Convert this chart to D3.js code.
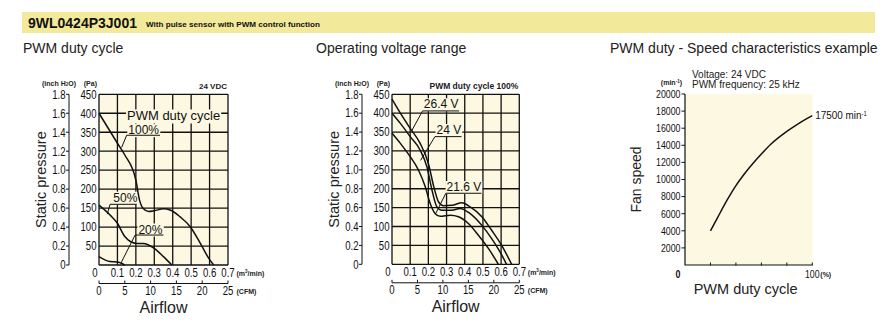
<!DOCTYPE html>
<meta charset="utf-8">
<style>
body { margin: 0; background: #fff; }
</style>
<svg width="890" height="334"></svg>
<script src="https://cdnjs.cloudflare.com/ajax/libs/d3/7.8.5/d3.min.js"></script>
<script>

var svg = d3.select("svg");

var sans = "'Liberation Sans', Arial, Helvetica, sans-serif",
    cream = "#fcf8e2",
    ink = "#111";

// --- data ---
var flowTicks = [0, 0.1, 0.2, 0.3, 0.4, 0.5, 0.6, 0.7];
var cfmTicks = [0, 5, 10, 15, 20, 25];
var paTicks = [50, 100, 150, 200, 250, 300, 350, 400, 450];
var paGrid = [0, 50, 100, 150, 200, 250, 300, 350, 400, 450];
var inchTicks = [0, 0.2, 0.4, 0.6, 0.8, 1.0, 1.2, 1.4, 1.6, 1.8];

// PWM duty cycle curves, [m3/min, Pa]
var duty100 = [[0, 400], [0.1, 321], [0.14, 290], [0.2, 224], [0.22, 171], [0.24, 149], [0.27, 141],
  [0.3, 143], [0.35, 148], [0.386, 145], [0.44, 127], [0.495, 101], [0.55, 57], [0.595, 18], [0.622, 0]];
var duty50 = [[0, 158], [0.06, 132], [0.1, 110], [0.14, 75], [0.17, 62], [0.205, 57], [0.24, 57],
  [0.3, 44], [0.35, 22], [0.395, 0]];
var duty20 = [[0, 22], [0.06, 9], [0.1, 8], [0.14, 0]];

// Operating voltage curves, [m3/min, Pa]
var volt264 = [[0, 437], [0.046, 400], [0.1, 360], [0.155, 320], [0.2, 267], [0.23, 205], [0.256, 165],
  [0.283, 155], [0.33, 156], [0.384, 163], [0.43, 152], [0.494, 126], [0.548, 90], [0.603, 50], [0.658, 0]];
var volt24 = [[0, 400], [0.046, 373], [0.1, 338], [0.155, 302], [0.192, 258], [0.22, 196], [0.247, 152],
  [0.274, 143], [0.33, 143], [0.375, 148], [0.43, 134], [0.494, 103], [0.548, 68], [0.594, 33], [0.63, 0]];
var volt216 = [[0, 347], [0.046, 320], [0.1, 285], [0.146, 249], [0.183, 205], [0.21, 161], [0.238, 134],
  [0.265, 127], [0.32, 130], [0.366, 126], [0.42, 108], [0.475, 77], [0.53, 42], [0.585, 0]];

// PWM duty - speed, [% duty, min-1]
var speedCurve = [[20, 4000], [25.7, 5575], [33.6, 7720], [40, 9280], [46.6, 10640], [60, 12980],
  [67.6, 14150], [80, 15630], [88.6, 16490], [100, 17465]];
var speedTicks = [2000, 4000, 6000, 8000, 10000, 12000, 14000, 16000, 18000, 20000];
var dutyTicks = [20, 40, 60, 80, 100];

// curve labels: text position, underline and leader end, in data units
var dutyLabels = [
  {text: "100%", x: 0.159, y: 345, u0: 0.15, u1: 0.331, uy: 342, lx: 0.123, ly: 310},
  {text: "50%", x: 0.078, y: 167, u0: 0.06, u1: 0.205, uy: 160, lx: 0.045, ly: 134},
  {text: "20%", x: 0.214, y: 83, u0: 0.196, u1: 0.35, uy: 79, lx: 0.118, ly: 4}
];
var voltLabels = [
  {text: "26.4 V", x: 0.175, y: 413, u0: 0.168, u1: 0.369, uy: 406, lx: 0.108, ly: 353},
  {text: "24 V", x: 0.245, y: 345, u0: 0.236, u1: 0.382, uy: 338, lx: 0.157, ly: 275},
  {text: "21.6 V", x: 0.3, y: 194, u0: 0.296, u1: 0.492, uy: 188, lx: 0.241, ly: 135}
];

// condensed numbers: the catalogue uses a narrow face, squeeze regular sans
function squeeze(x, y) { return "translate(" + x + "," + y + ") scale(0.8,1)"; }

// --- header ---
svg.append("rect").attr("x", 22).attr("y", 12).attr("width", 853).attr("height", 21).attr("fill", "#f2e99a");
svg.append("text").attr("x", 28).attr("y", 27.5)
    .style("font", "900 14px " + sans).attr("fill", ink).text("9WL0424P3J001");
svg.append("text").attr("x", 146).attr("y", 26.5)
    .style("font", "bold 8.1px " + sans).attr("fill", ink).text("With pulse sensor with PWM control function");

[["PWM duty cycle", 23], ["Operating voltage range", 316], ["PWM duty - Speed characteristics example", 610]]
  .forEach(function(t) {
    svg.append("text").attr("x", t[1]).attr("y", 52.5)
        .style("font", "14px " + sans).attr("fill", "#222").text(t[0]);
  });

function knockout(sel) {
  var b = sel.node().getBBox();
  sel.node().parentNode.insertBefore(
    d3.create("svg:rect").attr("x", b.x - 1).attr("y", b.y + 1).attr("width", b.width + 2)
      .attr("height", b.height - 1).attr("fill", cream).node(), sel.node());
}

function pqChart(o) {
  var x = d3.scaleLinear().domain([0, 0.7]).range([o.left, o.right]),
      cfm = d3.scaleLinear().domain([0, 25]).range([o.left, o.right]),
      y = d3.scaleLinear().domain([0, 450]).range([o.bottom, o.top]),
      yi = d3.scaleLinear().domain([0, 1.8]).range([o.bottom, o.top]);
  var g = svg.append("g");

  g.append("rect").attr("x", o.left).attr("y", o.top)
      .attr("width", o.right - o.left).attr("height", o.bottom - o.top).attr("fill", cream);

  g.selectAll(".vg").data(flowTicks).enter().append("line")
      .attr("x1", x).attr("x2", x).attr("y1", o.top).attr("y2", o.bottom)
      .attr("stroke", ink).attr("stroke-width", 1.3);
  g.selectAll(".hg").data(paGrid).enter().append("line")
      .attr("y1", y).attr("y2", y).attr("x1", o.left).attr("x2", o.right)
      .attr("stroke", ink).attr("stroke-width", 1.3);

  // labels on cream knockouts
  var labs = g.append("g");
  if (o.headText) {
    var head = labs.append("text").attr("x", x(o.head[0])).attr("y", y(o.head[1]))
        .style("font", "13px " + sans).attr("fill", ink).text(o.headText);
    knockout(head);
  }
  o.labels.forEach(function(d) {
    var t = labs.append("text").attr("x", x(d.x)).attr("y", y(d.y))
        .style("font", "12px " + sans).attr("fill", ink).text(d.text);
    knockout(t);
  });

  var line = d3.line().curve(d3.curveMonotoneX)
      .x(function(d) { return x(d[0]); }).y(function(d) { return y(d[1]); });
  g.selectAll(".curve").data(o.curves).enter().append("path")
      .attr("d", line).attr("fill", "none").attr("stroke", ink).attr("stroke-width", 1.5);

  o.labels.forEach(function(d) {
    g.append("path")
        .attr("d", "M" + x(d.u1) + "," + y(d.uy) + "H" + x(d.u0) + "L" + x(d.lx) + "," + y(d.ly))
        .attr("fill", "none").attr("stroke", ink).attr("stroke-width", 1);
  });

  // Pa labels
  g.selectAll(".pa").data(paTicks).enter().append("text")
      .attr("transform", function(d) { return squeeze(o.left - 2.5, y(d) + 4.3); })
      .attr("text-anchor", "end").style("font", "12px " + sans).attr("fill", ink)
      .text(function(d) { return d; });

  // inch H2O axis
  var ix = o.left - 30;
  g.append("line").attr("x1", ix).attr("x2", ix).attr("y1", yi(1.8)).attr("y2", yi(0))
      .attr("stroke", ink).attr("stroke-width", 1);
  g.selectAll(".it").data(inchTicks).enter().append("line")
      .attr("x1", ix - 3).attr("x2", ix).attr("y1", yi).attr("y2", yi)
      .attr("stroke", ink).attr("stroke-width", 1);
  g.selectAll(".il").data(inchTicks).enter().append("text")
      .attr("transform", function(d) { return squeeze(ix - 3.5, yi(d) + 4.3); })
      .attr("text-anchor", "end").style("font", "12px " + sans).attr("fill", ink)
      .text(function(d) { return d === 0 ? "0" : d.toFixed(1); });

  var unit = g.append("text").attr("x", o.left - 23).attr("y", o.top - 8.5).attr("text-anchor", "end")
      .style("font", "bold 7px " + sans).attr("fill", "#222");
  unit.append("tspan").text("(inch H");
  unit.append("tspan").style("font-size", "4.5px").text("2");
  unit.append("tspan").text("O)");
  g.append("text").attr("x", o.left - 2).attr("y", o.top - 8.5).attr("text-anchor", "end")
      .style("font", "bold 7px " + sans).attr("fill", "#222").text("(Pa)");

  g.append("text").attr("x", o.right - 1).attr("y", o.top - 5.5).attr("text-anchor", "end")
      .style("font", "bold " + o.noteSize + "px " + sans).attr("fill", "#222").text(o.note);

  // m3/min axis labels
  g.selectAll(".fl").data(flowTicks).enter().append("text")
      .attr("transform", function(d) { return squeeze(d === 0 ? x(d) - 4 : x(d), o.bottom + 11.5); })
      .attr("text-anchor", "middle").style("font", "12px " + sans).attr("fill", ink)
      .text(function(d) { return d === 0 ? "0" : d.toFixed(1); });
  var mu = g.append("text").attr("x", o.right + 8.5).attr("y", o.bottom + 10.5)
      .style("font", "bold 7px " + sans).attr("fill", "#222");
  mu.append("tspan").text("(m");
  mu.append("tspan").attr("dy", -2.5).style("font-size", "4.5px").text("3");
  mu.append("tspan").attr("dy", 2.5).text("/min)");

  // CFM axis
  var cy = o.bottom + 18.5;
  g.append("line").attr("x1", cfm(0)).attr("x2", cfm(25)).attr("y1", cy).attr("y2", cy)
      .attr("stroke", ink).attr("stroke-width", 1);
  g.selectAll(".ct").data(cfmTicks).enter().append("line")
      .attr("x1", cfm).attr("x2", cfm).attr("y1", cy - 3).attr("y2", cy)
      .attr("stroke", ink).attr("stroke-width", 1);
  g.selectAll(".cl").data(cfmTicks).enter().append("text")
      .attr("transform", function(d) { return squeeze(cfm(d), cy + 11.5); })
      .attr("text-anchor", "middle").style("font", "12px " + sans).attr("fill", ink)
      .text(function(d) { return d; });
  g.append("text").attr("x", o.right + 8.5).attr("y", cy + 10.5)
      .style("font", "bold 7px " + sans).attr("fill", "#222").text("(CFM)");

  g.append("text").attr("x", (o.left + o.right) / 2).attr("y", o.bottom + 47.5)
      .attr("text-anchor", "middle").style("font", "16px " + sans).attr("fill", "#222").text("Airflow");
  g.append("text").attr("transform", "translate(" + (o.left - 53) + "," + ((o.top + o.bottom) / 2) + ") rotate(-90)")
      .attr("text-anchor", "middle").style("font", "14.5px " + sans).attr("fill", "#222").text("Static pressure");
}

pqChart({left: 99, right: 228, top: 94.3, bottom: 265,
  curves: [duty100, duty50, duty20], labels: dutyLabels,
  headText: "PWM duty cycle", head: [0.152, 381], note: "24 VDC", noteSize: 8});

pqChart({left: 392, right: 519.3, top: 94.3, bottom: 264.3,
  curves: [volt264, volt24, volt216], labels: voltLabels,
  headText: "", head: [0, 0], note: "PWM duty cycle 100%", noteSize: 8.5});

// --- PWM duty - speed chart ---
(function() {
  var left = 685, right = 812.3, top = 94, bottom = 265;
  var x = d3.scaleLinear().domain([0, 100]).range([left, right]),
      y = d3.scaleLinear().domain([0, 20000]).range([bottom, top]);
  var g = svg.append("g");

  g.append("rect").attr("x", left).attr("y", top).attr("width", right - left).attr("height", bottom - top)
      .attr("fill", cream);

  g.append("path").attr("d", "M" + left + "," + top + "V" + bottom + "H" + right)
      .attr("fill", "none").attr("stroke", ink).attr("stroke-width", 1.2);
  g.selectAll(".yt").data(speedTicks).enter().append("line")
      .attr("x1", left - 3.5).attr("x2", left).attr("y1", y).attr("y2", y)
      .attr("stroke", ink).attr("stroke-width", 1);
  g.selectAll(".yl").data(speedTicks).enter().append("text")
      .attr("transform", function(d) { return squeeze(left - 4.5, y(d) + 3.8); })
      .attr("text-anchor", "end").style("font", "11px " + sans).attr("fill", ink)
      .text(function(d) { return d; });
  g.selectAll(".xt").data(dutyTicks).enter().append("line")
      .attr("x1", x).attr("x2", x).attr("y1", bottom - 2.5).attr("y2", bottom + 0.5)
      .attr("stroke", ink).attr("stroke-width", 1);
  g.append("text").attr("transform", squeeze(x(0) - 7, bottom + 12.5)).attr("text-anchor", "middle")
      .style("font", "bold 11px " + sans).attr("fill", ink).text("0");
  g.append("text").attr("transform", squeeze(x(100), bottom + 12.5)).attr("text-anchor", "middle")
      .style("font", "11px " + sans).attr("fill", ink).text("100");
  g.append("text").attr("x", x(100) + 8).attr("y", bottom + 12)
      .style("font", "bold 7px " + sans).attr("fill", "#222").text("(%)");

  var line = d3.line().curve(d3.curveMonotoneX)
      .x(function(d) { return x(d[0]); }).y(function(d) { return y(d[1]); });
  g.append("path").datum(speedCurve).attr("d", line)
      .attr("fill", "none").attr("stroke", ink).attr("stroke-width", 1.5);

  var last = speedCurve[speedCurve.length - 1];
  var end = g.append("text").attr("transform", "translate(" + (x(last[0]) + 3) + "," + (y(last[1]) + 3.5) + ") scale(0.9,1)")
      .style("font", "11px " + sans).attr("fill", ink);
  end.append("tspan").text("17500 min");
  end.append("tspan").attr("dy", -3).style("font-size", "6.5px").text("-1");

  var mu = g.append("text").attr("x", left - 3).attr("y", top - 9)
      .attr("text-anchor", "end").style("font", "bold 7px " + sans).attr("fill", "#222");
  mu.append("tspan").text("(min");
  mu.append("tspan").attr("dy", -2.5).style("font-size", "4.5px").text("-1");
  mu.append("tspan").attr("dy", 2.5).text(")");

  g.append("text").attr("x", left + 7).attr("y", top - 16)
      .style("font", "10px " + sans).attr("fill", "#222").text("Voltage: 24 VDC");
  g.append("text").attr("x", left + 7).attr("y", top - 6)
      .style("font", "10px " + sans).attr("fill", "#222").text("PWM frequency: 25 kHz");

  g.append("text").attr("x", (left + right) / 2 - 3).attr("y", bottom + 29)
      .attr("text-anchor", "middle").style("font", "14.5px " + sans).attr("fill", "#222").text("PWM duty cycle");
  g.append("text").attr("transform", "translate(" + (left - 44) + "," + ((top + bottom) / 2) + ") rotate(-90)")
      .attr("text-anchor", "middle").style("font", "14px " + sans).attr("fill", "#222").text("Fan speed");
})();

</script>
